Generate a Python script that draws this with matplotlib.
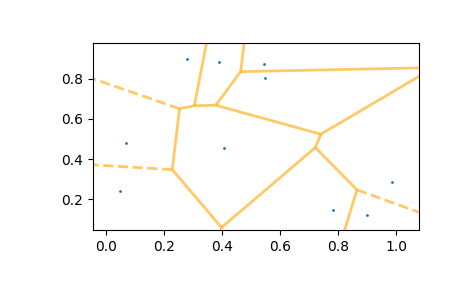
import itertools
import numpy as np
import matplotlib
matplotlib.use('Agg')
import matplotlib.pyplot as plt
from matplotlib.collections import LineCollection

# seed points
pts_x = [0.048, 0.069, 0.278, 0.390, 0.406, 0.544, 0.546, 0.782, 0.900, 0.986]
pts_y = [0.243, 0.482, 0.900, 0.885, 0.454, 0.872, 0.805, 0.149, 0.124, 0.288]

points = np.column_stack([pts_x, pts_y])


def circumcenter(a, b, c):
    d = 2 * (a[0] * (b[1] - c[1]) + b[0] * (c[1] - a[1]) + c[0] * (a[1] - b[1]))
    if abs(d) < 1e-12:
        return None
    ux = ((a @ a) * (b[1] - c[1]) + (b @ b) * (c[1] - a[1]) + (c @ c) * (a[1] - b[1])) / d
    uy = ((a @ a) * (c[0] - b[0]) + (b @ b) * (a[0] - c[0]) + (c @ c) * (b[0] - a[0])) / d
    return np.array([ux, uy])


# brute force delaunay -> voronoi vertices / ridges
n = len(points)
vertices = []
edge_tris = {}
for i, j, k in itertools.combinations(range(n), 3):
    c = circumcenter(points[i], points[j], points[k])
    if c is None:
        continue
    r = np.linalg.norm(points[i] - c)
    others = [m for m in range(n) if m not in (i, j, k)]
    if all(np.linalg.norm(points[m] - c) > r - 1e-9 for m in others):
        vi = len(vertices)
        vertices.append(c)
        for e in [(i, j), (i, k), (j, k)]:
            edge_tris.setdefault(e, []).append(vi)
vertices = np.array(vertices)

center = points.mean(axis=0)
ptp_bound = np.ptp(points, axis=0)
finite_segments = []
infinite_segments = []
for (p0, p1), tris in edge_tris.items():
    if len(tris) == 2:
        finite_segments.append(vertices[tris])
    else:
        v = vertices[tris[0]]
        t = points[p1] - points[p0]
        t /= np.linalg.norm(t)
        nn = np.array([-t[1], t[0]])
        midpoint = points[[p0, p1]].mean(axis=0)
        direction = np.sign(np.dot(midpoint - center, nn)) * nn
        aspect_factor = abs(ptp_bound.max() / ptp_bound.min())
        far_point = v + direction * ptp_bound.max() * aspect_factor
        infinite_segments.append([v, far_point])

fig = plt.figure(figsize=(4.65, 2.88), dpi=100)
ax = fig.add_subplot(111)
fig.subplots_adjust(left=0.2, right=0.902, bottom=0.201, top=0.85)

ax.plot(points[:, 0], points[:, 1], '.', markersize=2)
ax.add_collection(LineCollection(finite_segments, colors='orange', lw=2, alpha=0.6, linestyle='solid'))
ax.add_collection(LineCollection(infinite_segments, colors='orange', lw=2, alpha=0.6, linestyle='dashed'))

margin = 0.1 * ptp_bound
ax.set_xlim(points[:, 0].min() - margin[0], points[:, 0].max() + margin[0])
ax.set_ylim(points[:, 1].min() - margin[1], points[:, 1].max() + margin[1])

plt.savefig('out.png')
